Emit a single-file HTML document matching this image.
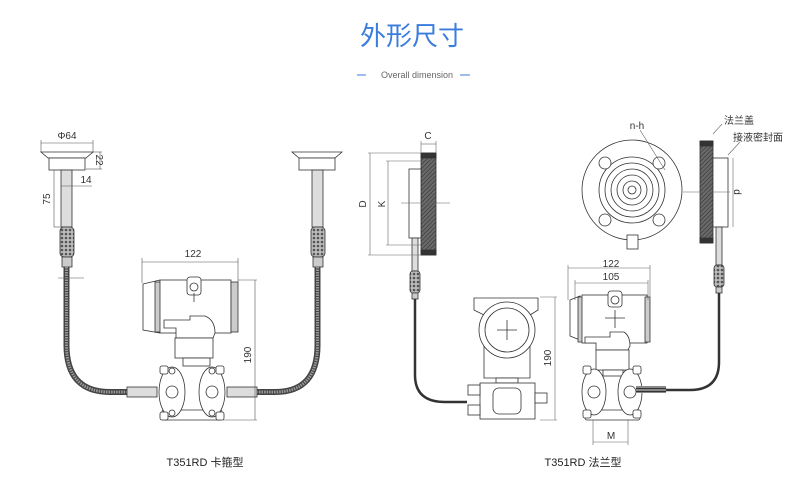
<!DOCTYPE html>
<html><head><meta charset="utf-8"><style>
html,body{margin:0;padding:0;background:#fff;width:811px;height:481px;overflow:hidden}
svg{display:block}
text{font-family:"Liberation Sans","Noto Sans CJK SC",sans-serif}
</style></head><body>
<svg width="811" height="481" viewBox="0 0 811 481" xmlns="http://www.w3.org/2000/svg">
<defs>
<pattern id="hatch" width="3" height="3" patternUnits="userSpaceOnUse" patternTransform="rotate(45)">
<rect width="3" height="3" fill="#6a6a6a"/><line x1="0" y1="0" x2="0" y2="3" stroke="#333" stroke-width="1.2"/></pattern>
<pattern id="knurl" width="4" height="4" patternUnits="userSpaceOnUse">
<rect width="4" height="4" fill="#bbb"/><circle cx="2" cy="2" r="1.3" fill="#555"/></pattern>
<pattern id="hose" width="3" height="3" patternUnits="userSpaceOnUse">
<rect width="3" height="3" fill="#888"/><line x1="0" y1="1.5" x2="3" y2="1.5" stroke="#333" stroke-width="1"/></pattern>
</defs>
<text x="412" y="45" font-size="26" fill="#3b7ddd" text-anchor="middle" font-family="Noto Sans CJK SC,sans-serif">外形尺寸</text>
<line x1="357" y1="75" x2="366" y2="75" stroke="#3b7ddd"/>
<text x="417" y="78" font-size="9" fill="#666" text-anchor="middle">Overall dimension</text>
<line x1="460" y1="75" x2="470" y2="75" stroke="#3b7ddd"/>

<g stroke="#333" stroke-width="0.8" fill="#fff">
<path d="M41 152 L93 152 L86 158 L48 158 Z"/><rect x="49" y="158" width="36" height="12"/>
<rect x="61" y="170" width="11" height="57" fill="#ddd"/>
<rect x="60" y="227" width="14" height="30" rx="4" fill="url(#knurl)"/>
<rect x="62" y="257" width="10" height="10" fill="#ccc"/>
<path d="M292 152 L342 152 L335 158 L299 158 Z"/><rect x="299" y="158" width="36" height="12"/>
<rect x="312" y="170" width="11" height="57" fill="#ddd"/>
<rect x="311" y="227" width="14" height="30" rx="4" fill="url(#knurl)"/>
<rect x="313" y="257" width="10" height="10" fill="#ccc"/>
<path d="M66.5 267 L66.5 345 Q66.5 392 110 392 L128 392" fill="none" stroke="#444" stroke-width="6"/>
<path d="M66.5 267 L66.5 345 Q66.5 392 110 392 L128 392" fill="none" stroke="#999" stroke-width="3" stroke-dasharray="1.5 1"/>
<path d="M317.5 267 L317.5 345 Q317.5 392 275 392 L255 392" fill="none" stroke="#444" stroke-width="6"/>
<path d="M317.5 267 L317.5 345 Q317.5 392 275 392 L255 392" fill="none" stroke="#999" stroke-width="3" stroke-dasharray="1.5 1"/>
<rect x="127" y="387" width="30" height="10" fill="#ddd"/>
<rect x="227" y="387" width="30" height="10" fill="#ddd"/>
<path d="M143 284 L160 280 L160 333 L143 330 Z"/>
<rect x="155" y="282" width="6" height="50" fill="#ccc"/>
<rect x="160" y="280" width="71" height="53"/>
<rect x="231" y="282" width="7" height="50" fill="#ccc"/>
<rect x="187" y="277" width="14" height="18" rx="3"/><circle cx="194" cy="287" r="4"/>
<line x1="194" y1="293" x2="194" y2="302"/>
<path d="M164 320 L190 320 L190 316 L205 316 Q215 320 215 333 L213 338 L176 338 L176 328 L164 328 Z"/>
<rect x="175" y="338" width="38" height="20"/>
<rect x="183" y="358" width="27" height="8"/>
<rect x="162" y="410" width="60" height="10" rx="2"/>
<ellipse cx="172" cy="392" rx="13" ry="25"/><circle cx="172" cy="392" r="6"/>
<ellipse cx="212" cy="392" rx="13" ry="25"/><circle cx="212" cy="392" r="6"/>
<circle cx="172" cy="371" r="3"/><circle cx="172" cy="413" r="3"/><circle cx="212" cy="371" r="3"/><circle cx="212" cy="413" r="3"/>
<rect x="160" y="366" width="8" height="8" rx="2"/><rect x="216" y="366" width="8" height="8" rx="2"/>
<rect x="160" y="412" width="8" height="8" rx="2"/><rect x="216" y="412" width="8" height="8" rx="2"/>
</g>
<g stroke="#555" stroke-width="0.6" fill="none">
<line x1="41" y1="143" x2="93" y2="143"/><line x1="41" y1="140" x2="41" y2="152"/><line x1="93" y1="140" x2="93" y2="152"/>
<line x1="100" y1="152" x2="100" y2="169"/><line x1="93" y1="152" x2="102" y2="152"/><line x1="86" y1="169" x2="102" y2="169"/>
<line x1="61" y1="186" x2="92" y2="186"/>
<line x1="54" y1="170" x2="54" y2="227"/><line x1="54" y1="170" x2="61" y2="170"/><line x1="54" y1="227" x2="61" y2="227"/>
<line x1="58" y1="278" x2="84" y2="278"/>
<line x1="142" y1="262" x2="238" y2="262"/><line x1="142" y1="258" x2="142" y2="283"/><line x1="238" y1="258" x2="238" y2="283"/>
<line x1="255" y1="280" x2="255" y2="420"/><line x1="238" y1="280" x2="257" y2="280"/><line x1="222" y1="420" x2="257" y2="420"/>
</g>
<g font-size="10" fill="#333">
<text x="67" y="139" text-anchor="middle">Φ64</text>
<text x="0" y="0" transform="translate(96,160) rotate(90)" text-anchor="middle">22</text>
<text x="86" y="183" text-anchor="middle">14</text>
<text x="0" y="0" transform="translate(50,199) rotate(-90)" text-anchor="middle">75</text>
<text x="193" y="257" text-anchor="middle">122</text>
<text x="0" y="0" transform="translate(251,355) rotate(-90)" text-anchor="middle">190</text>
</g>
<text x="205" y="466" font-size="11" fill="#222" text-anchor="middle">T351RD 卡箍型</text>

<g stroke="#333" stroke-width="0.8" fill="#fff">
<rect x="421" y="153" width="15" height="102" fill="url(#hatch)"/>
<rect x="421" y="153" width="15" height="5" fill="#333"/><rect x="421" y="250" width="15" height="5" fill="#333"/>
<rect x="409" y="169" width="12" height="69"/>
<rect x="412" y="238" width="6" height="33" fill="#ddd"/>
<rect x="410" y="271" width="10" height="22" rx="3" fill="url(#knurl)"/>
<rect x="412" y="293" width="6" height="6" fill="#ccc"/>
<path d="M415 299 L415 375 Q415 402 445 402 L467 402" fill="none" stroke="#333" stroke-width="2.5"/>
<circle cx="632" cy="190" r="50"/>
<circle cx="632" cy="190" r="33"/>
<circle cx="632" cy="190" r="27" fill="none"/><circle cx="632" cy="190" r="21" fill="none"/><circle cx="632" cy="190" r="15" fill="none"/><circle cx="632" cy="190" r="9" fill="none"/><circle cx="632" cy="190" r="4" fill="none"/>
<circle cx="605" cy="163" r="6"/><circle cx="659" cy="163" r="6"/><circle cx="605" cy="220" r="6"/><circle cx="659" cy="220" r="6"/>
<rect x="627" y="235" width="11" height="14"/>
<rect x="700" y="141" width="13" height="102" fill="url(#hatch)"/>
<rect x="700" y="141" width="13" height="5" fill="#333"/><rect x="700" y="238" width="13" height="5" fill="#333"/>
<rect x="713" y="158" width="15" height="69"/>
<rect x="716" y="227" width="6" height="38" fill="#ddd"/>
<rect x="714" y="265" width="10" height="22" rx="3" fill="url(#knurl)"/>
<rect x="716" y="287" width="6" height="6" fill="#ccc"/>
<path d="M719 293 L719 362 Q719 390 690 390 L640 390" fill="none" stroke="#333" stroke-width="2.5"/>
<path d="M474 298 L538 298 L538 310 L530 315 L530 378 L484 378 L484 315 L474 310 Z"/>
<circle cx="507" cy="330" r="28"/><circle cx="507" cy="330" r="22"/>
<line x1="497" y1="330" x2="517" y2="330"/><line x1="507" y1="320" x2="507" y2="340"/>
<rect x="496" y="378" width="22" height="5"/>
<rect x="480" y="383" width="55" height="36"/>
<rect x="493" y="388" width="28" height="26" rx="6"/>
<rect x="468" y="385" width="12" height="10"/><rect x="468" y="405" width="12" height="10"/>
<rect x="535" y="393" width="12" height="10"/>
<path d="M570 300 L580 296 L580 340 L570 336 Z"/>
<rect x="578" y="297" width="5" height="45" fill="#ccc"/>
<rect x="582" y="295" width="65" height="48"/>
<rect x="645" y="297" width="5" height="45" fill="#ccc"/>
<rect x="608" y="291" width="14" height="16" rx="3"/><circle cx="615" cy="300" r="4"/>
<line x1="605" y1="318" x2="625" y2="318"/><line x1="615" y1="310" x2="615" y2="328"/>
<path d="M585 337 L610 337 L610 332 L624 332 Q630 336 630 346 L628 350 L596 350 L596 343 L585 343 Z"/>
<rect x="596" y="350" width="33" height="20"/>
<rect x="603" y="370" width="20" height="6"/>
<rect x="585" y="410" width="55" height="10" rx="2"/>
<ellipse cx="594" cy="392" rx="12" ry="23"/><circle cx="594" cy="392" r="6"/>
<ellipse cx="630" cy="392" rx="12" ry="23"/><circle cx="630" cy="392" r="6"/>
<rect x="583" y="366" width="8" height="8" rx="2"/><rect x="633" y="366" width="8" height="8" rx="2"/>
<rect x="583" y="410" width="8" height="8" rx="2"/><rect x="633" y="410" width="8" height="8" rx="2"/>
</g>
<rect x="636" y="386" width="30" height="7" fill="url(#hose)"/>
<g stroke="#666" stroke-width="0.6" fill="none">
<line x1="370" y1="153" x2="370" y2="255"/><line x1="368" y1="153" x2="421" y2="153"/><line x1="368" y1="255" x2="421" y2="255"/>
<line x1="388" y1="161" x2="388" y2="245"/><line x1="386" y1="161" x2="421" y2="161"/><line x1="386" y1="245" x2="421" y2="245"/>
<line x1="421" y1="141" x2="421" y2="153"/><line x1="436" y1="141" x2="436" y2="153"/><line x1="421" y1="144" x2="436" y2="144"/>
<line x1="401" y1="203" x2="450" y2="203"/>
<line x1="640" y1="130" x2="665" y2="170"/>
<line x1="683" y1="192" x2="730" y2="192"/>
<line x1="733" y1="158" x2="733" y2="227"/>
<line x1="713" y1="134" x2="722" y2="124" /><line x1="728" y1="155" x2="740" y2="142"/>
<line x1="568" y1="268" x2="650" y2="268"/><line x1="568" y1="265" x2="568" y2="300"/><line x1="650" y1="265" x2="650" y2="300"/>
<line x1="575" y1="283" x2="648" y2="283"/><line x1="575" y1="280" x2="575" y2="300"/><line x1="648" y1="280" x2="648" y2="300"/>
<line x1="555" y1="297" x2="555" y2="420"/><line x1="540" y1="297" x2="557" y2="297"/><line x1="540" y1="420" x2="557" y2="420"/>
<line x1="593" y1="442" x2="628" y2="442"/><line x1="593" y1="420" x2="593" y2="445"/><line x1="628" y1="420" x2="628" y2="445"/>
</g>
<g font-size="10" fill="#333">
<text x="428" y="139" text-anchor="middle">C</text>
<text x="0" y="0" transform="translate(366,204) rotate(-90)" text-anchor="middle">D</text>
<text x="0" y="0" transform="translate(385,204) rotate(-90)" text-anchor="middle">K</text>
<text x="637" y="129" text-anchor="middle">n-h</text>
<text x="0" y="0" transform="translate(734,192) rotate(90)" text-anchor="middle">d</text>
<text x="724" y="124">法兰盖</text>
<text x="733" y="141">接液密封面</text>
<text x="611" y="267" text-anchor="middle">122</text>
<text x="611" y="280" text-anchor="middle">105</text>
<text x="0" y="0" transform="translate(551,358) rotate(-90)" text-anchor="middle">190</text>
<text x="611" y="439" text-anchor="middle">M</text>
</g>
<text x="583" y="466" font-size="11" fill="#222" text-anchor="middle">T351RD 法兰型</text>
</svg>
</body></html>
